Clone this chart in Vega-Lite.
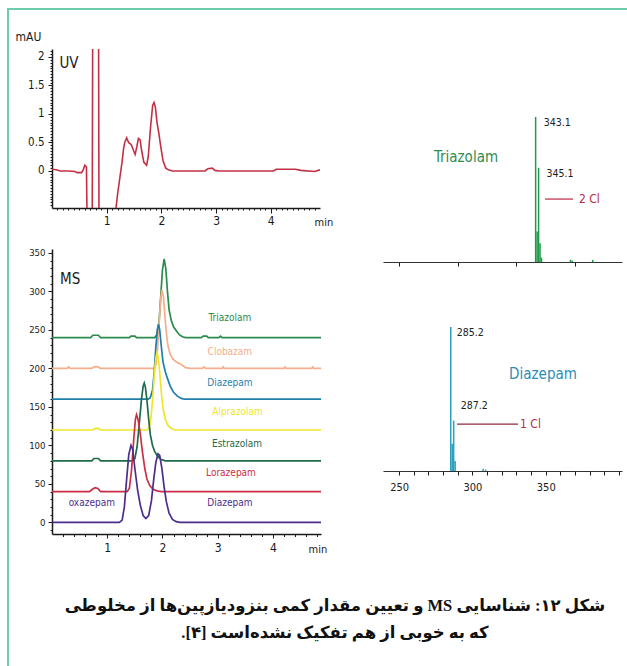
{
  "$schema": "https://vega.github.io/schema/vega-lite/v6.json",
  "background": "white",
  "padding": {"left": 7, "top": 8, "right": 0, "bottom": 0},
  "spacing": 0,
  "config": {
    "view": {"stroke": null},
    "axis": {
      "grid": false,
      "domainColor": "#1a1a1a",
      "domainWidth": 1.5,
      "tickColor": "#1a1a1a",
      "tickWidth": 1,
      "labelColor": "#1a1a1a",
      "labelFont": "Liberation Sans Narrow, DejaVu Sans Condensed, sans-serif",
      "titleFont": "Liberation Sans Narrow, DejaVu Sans Condensed, sans-serif",
      "titleFontWeight": "normal",
      "titleColor": "#1a1a1a"
    },
    "text": {"font": "Liberation Sans Narrow, DejaVu Sans Condensed, sans-serif"}
  },
  "datasets": {
    "uv": [
      {"t": 0, "a": 0.03}, {"t": 0.08, "a": 0.02}, {"t": 0.15, "a": 0.0}, {"t": 0.3, "a": 0.0},
      {"t": 0.42, "a": -0.01}, {"t": 0.46, "a": -0.03}, {"t": 0.54, "a": -0.03}, {"t": 0.57, "a": 0.02},
      {"t": 0.6, "a": 0.1}, {"t": 0.63, "a": 0.07}, {"t": 0.645, "a": -1.2}, {"t": 0.735, "a": -1.2},
      {"t": 0.745, "a": 3}, {"t": 0.85, "a": 3}, {"t": 0.86, "a": -1.2}, {"t": 1.13, "a": -1.2},
      {"t": 1.17, "a": -0.65}, {"t": 1.2, "a": -0.4}, {"t": 1.24, "a": -0.12}, {"t": 1.28, "a": 0.15},
      {"t": 1.31, "a": 0.4}, {"t": 1.33, "a": 0.5}, {"t": 1.365, "a": 0.58}, {"t": 1.4, "a": 0.5},
      {"t": 1.45, "a": 0.46}, {"t": 1.49, "a": 0.36}, {"t": 1.52, "a": 0.29}, {"t": 1.55, "a": 0.42},
      {"t": 1.58, "a": 0.57}, {"t": 1.61, "a": 0.55}, {"t": 1.64, "a": 0.35}, {"t": 1.68, "a": 0.15},
      {"t": 1.73, "a": 0.1}, {"t": 1.76, "a": 0.25}, {"t": 1.8, "a": 0.75}, {"t": 1.84, "a": 1.15},
      {"t": 1.865, "a": 1.2}, {"t": 1.89, "a": 1.12}, {"t": 1.92, "a": 0.85}, {"t": 1.95, "a": 0.68},
      {"t": 1.99, "a": 0.42}, {"t": 2.03, "a": 0.18}, {"t": 2.08, "a": 0.05}, {"t": 2.13, "a": 0.02},
      {"t": 2.2, "a": 0.0}, {"t": 2.8, "a": 0.0}, {"t": 2.85, "a": 0.04}, {"t": 2.93, "a": 0.05},
      {"t": 2.98, "a": 0.01}, {"t": 3.05, "a": 0.0}, {"t": 4.05, "a": 0.0}, {"t": 4.1, "a": 0.03},
      {"t": 4.3, "a": 0.03}, {"t": 4.45, "a": 0.03}, {"t": 4.55, "a": 0.01}, {"t": 4.8, "a": -0.01},
      {"t": 4.9, "a": 0.02}
    ],
    "ms": [
      {"s": "Triazolam", "t": 0, "v": 240}, {"s": "Triazolam", "t": 0.7, "v": 240}, {"s": "Triazolam", "t": 0.74, "v": 243},
      {"s": "Triazolam", "t": 0.84, "v": 243}, {"s": "Triazolam", "t": 0.88, "v": 240}, {"s": "Triazolam", "t": 1.4, "v": 240},
      {"s": "Triazolam", "t": 1.43, "v": 242}, {"s": "Triazolam", "t": 1.5, "v": 242}, {"s": "Triazolam", "t": 1.53, "v": 240},
      {"s": "Triazolam", "t": 1.86, "v": 240}, {"s": "Triazolam", "t": 1.9, "v": 244}, {"s": "Triazolam", "t": 1.94, "v": 262},
      {"s": "Triazolam", "t": 1.97, "v": 295}, {"s": "Triazolam", "t": 2.0, "v": 328}, {"s": "Triazolam", "t": 2.03, "v": 342},
      {"s": "Triazolam", "t": 2.06, "v": 330}, {"s": "Triazolam", "t": 2.09, "v": 300}, {"s": "Triazolam", "t": 2.12, "v": 276},
      {"s": "Triazolam", "t": 2.16, "v": 262}, {"s": "Triazolam", "t": 2.2, "v": 254}, {"s": "Triazolam", "t": 2.25, "v": 249},
      {"s": "Triazolam", "t": 2.3, "v": 244}, {"s": "Triazolam", "t": 2.36, "v": 241}, {"s": "Triazolam", "t": 2.42, "v": 240},
      {"s": "Triazolam", "t": 2.7, "v": 240}, {"s": "Triazolam", "t": 2.74, "v": 242}, {"s": "Triazolam", "t": 2.8, "v": 242},
      {"s": "Triazolam", "t": 2.83, "v": 240}, {"s": "Triazolam", "t": 3.02, "v": 240}, {"s": "Triazolam", "t": 3.05, "v": 242},
      {"s": "Triazolam", "t": 3.08, "v": 240}, {"s": "Triazolam", "t": 4.87, "v": 240},

      {"s": "Clobazam", "t": 0, "v": 200}, {"s": "Clobazam", "t": 0.28, "v": 200}, {"s": "Clobazam", "t": 0.3, "v": 202},
      {"s": "Clobazam", "t": 0.33, "v": 200}, {"s": "Clobazam", "t": 0.72, "v": 200}, {"s": "Clobazam", "t": 0.76, "v": 202},
      {"s": "Clobazam", "t": 0.84, "v": 202}, {"s": "Clobazam", "t": 0.87, "v": 200}, {"s": "Clobazam", "t": 1.85, "v": 200},
      {"s": "Clobazam", "t": 1.88, "v": 204}, {"s": "Clobazam", "t": 1.91, "v": 225}, {"s": "Clobazam", "t": 1.94, "v": 260},
      {"s": "Clobazam", "t": 1.97, "v": 292}, {"s": "Clobazam", "t": 1.99, "v": 302}, {"s": "Clobazam", "t": 2.02, "v": 292},
      {"s": "Clobazam", "t": 2.05, "v": 262}, {"s": "Clobazam", "t": 2.08, "v": 240}, {"s": "Clobazam", "t": 2.1, "v": 229},
      {"s": "Clobazam", "t": 2.14, "v": 218}, {"s": "Clobazam", "t": 2.19, "v": 212}, {"s": "Clobazam", "t": 2.26, "v": 208},
      {"s": "Clobazam", "t": 2.34, "v": 205}, {"s": "Clobazam", "t": 2.42, "v": 201}, {"s": "Clobazam", "t": 2.5, "v": 200},
      {"s": "Clobazam", "t": 2.72, "v": 200}, {"s": "Clobazam", "t": 2.75, "v": 202}, {"s": "Clobazam", "t": 2.78, "v": 200},
      {"s": "Clobazam", "t": 3.08, "v": 200}, {"s": "Clobazam", "t": 3.1, "v": 202}, {"s": "Clobazam", "t": 3.12, "v": 200},
      {"s": "Clobazam", "t": 4.2, "v": 200}, {"s": "Clobazam", "t": 4.22, "v": 202}, {"s": "Clobazam", "t": 4.24, "v": 200},
      {"s": "Clobazam", "t": 4.7, "v": 200}, {"s": "Clobazam", "t": 4.72, "v": 202}, {"s": "Clobazam", "t": 4.74, "v": 200},
      {"s": "Clobazam", "t": 4.87, "v": 200},

      {"s": "Diazepam", "t": 0, "v": 160}, {"s": "Diazepam", "t": 1.74, "v": 160}, {"s": "Diazepam", "t": 1.78, "v": 162},
      {"s": "Diazepam", "t": 1.82, "v": 172}, {"s": "Diazepam", "t": 1.85, "v": 195}, {"s": "Diazepam", "t": 1.88, "v": 228},
      {"s": "Diazepam", "t": 1.91, "v": 252}, {"s": "Diazepam", "t": 1.93, "v": 257}, {"s": "Diazepam", "t": 1.95, "v": 250},
      {"s": "Diazepam", "t": 1.98, "v": 228}, {"s": "Diazepam", "t": 2.01, "v": 208}, {"s": "Diazepam", "t": 2.05, "v": 196},
      {"s": "Diazepam", "t": 2.09, "v": 187}, {"s": "Diazepam", "t": 2.14, "v": 177}, {"s": "Diazepam", "t": 2.2, "v": 169},
      {"s": "Diazepam", "t": 2.27, "v": 164}, {"s": "Diazepam", "t": 2.34, "v": 161}, {"s": "Diazepam", "t": 2.4, "v": 160},
      {"s": "Diazepam", "t": 4.87, "v": 160},

      {"s": "Alprazolam", "t": 0, "v": 120}, {"s": "Alprazolam", "t": 0.74, "v": 120}, {"s": "Alprazolam", "t": 0.78, "v": 122},
      {"s": "Alprazolam", "t": 0.84, "v": 122}, {"s": "Alprazolam", "t": 0.88, "v": 120}, {"s": "Alprazolam", "t": 1.72, "v": 120},
      {"s": "Alprazolam", "t": 1.76, "v": 123}, {"s": "Alprazolam", "t": 1.79, "v": 135}, {"s": "Alprazolam", "t": 1.82, "v": 158},
      {"s": "Alprazolam", "t": 1.85, "v": 190}, {"s": "Alprazolam", "t": 1.88, "v": 214}, {"s": "Alprazolam", "t": 1.9, "v": 220},
      {"s": "Alprazolam", "t": 1.92, "v": 216}, {"s": "Alprazolam", "t": 1.95, "v": 195}, {"s": "Alprazolam", "t": 1.98, "v": 168},
      {"s": "Alprazolam", "t": 2.01, "v": 148}, {"s": "Alprazolam", "t": 2.05, "v": 134}, {"s": "Alprazolam", "t": 2.1, "v": 126},
      {"s": "Alprazolam", "t": 2.16, "v": 122}, {"s": "Alprazolam", "t": 2.22, "v": 120}, {"s": "Alprazolam", "t": 4.87, "v": 120},

      {"s": "Estrazolam", "t": 0, "v": 80}, {"s": "Estrazolam", "t": 0.72, "v": 80}, {"s": "Estrazolam", "t": 0.76, "v": 83},
      {"s": "Estrazolam", "t": 0.84, "v": 83}, {"s": "Estrazolam", "t": 0.88, "v": 80}, {"s": "Estrazolam", "t": 1.46, "v": 80},
      {"s": "Estrazolam", "t": 1.5, "v": 83}, {"s": "Estrazolam", "t": 1.54, "v": 98}, {"s": "Estrazolam", "t": 1.58, "v": 128},
      {"s": "Estrazolam", "t": 1.62, "v": 160}, {"s": "Estrazolam", "t": 1.65, "v": 177}, {"s": "Estrazolam", "t": 1.67, "v": 181},
      {"s": "Estrazolam", "t": 1.69, "v": 176}, {"s": "Estrazolam", "t": 1.72, "v": 158}, {"s": "Estrazolam", "t": 1.75, "v": 134},
      {"s": "Estrazolam", "t": 1.78, "v": 114}, {"s": "Estrazolam", "t": 1.82, "v": 100}, {"s": "Estrazolam", "t": 1.86, "v": 92},
      {"s": "Estrazolam", "t": 1.91, "v": 86}, {"s": "Estrazolam", "t": 1.97, "v": 82}, {"s": "Estrazolam", "t": 2.05, "v": 80},
      {"s": "Estrazolam", "t": 4.87, "v": 80},

      {"s": "Lorazepam", "t": 0, "v": 40}, {"s": "Lorazepam", "t": 0.68, "v": 40}, {"s": "Lorazepam", "t": 0.73, "v": 43},
      {"s": "Lorazepam", "t": 0.78, "v": 45}, {"s": "Lorazepam", "t": 0.83, "v": 44}, {"s": "Lorazepam", "t": 0.88, "v": 40},
      {"s": "Lorazepam", "t": 1.36, "v": 40}, {"s": "Lorazepam", "t": 1.4, "v": 44}, {"s": "Lorazepam", "t": 1.44, "v": 68},
      {"s": "Lorazepam", "t": 1.48, "v": 108}, {"s": "Lorazepam", "t": 1.51, "v": 134}, {"s": "Lorazepam", "t": 1.53, "v": 140},
      {"s": "Lorazepam", "t": 1.56, "v": 133}, {"s": "Lorazepam", "t": 1.6, "v": 114}, {"s": "Lorazepam", "t": 1.64, "v": 90},
      {"s": "Lorazepam", "t": 1.68, "v": 70}, {"s": "Lorazepam", "t": 1.72, "v": 56}, {"s": "Lorazepam", "t": 1.77, "v": 48},
      {"s": "Lorazepam", "t": 1.83, "v": 43}, {"s": "Lorazepam", "t": 1.9, "v": 41}, {"s": "Lorazepam", "t": 1.98, "v": 40},
      {"s": "Lorazepam", "t": 4.87, "v": 40},

      {"s": "Oxazepam + Diazepam", "t": 0, "v": 0}, {"s": "Oxazepam + Diazepam", "t": 1.22, "v": 0}, {"s": "Oxazepam + Diazepam", "t": 1.27, "v": 3},
      {"s": "Oxazepam + Diazepam", "t": 1.31, "v": 20}, {"s": "Oxazepam + Diazepam", "t": 1.35, "v": 55}, {"s": "Oxazepam + Diazepam", "t": 1.39, "v": 88},
      {"s": "Oxazepam + Diazepam", "t": 1.43, "v": 100}, {"s": "Oxazepam + Diazepam", "t": 1.46, "v": 95}, {"s": "Oxazepam + Diazepam", "t": 1.5, "v": 70},
      {"s": "Oxazepam + Diazepam", "t": 1.55, "v": 42}, {"s": "Oxazepam + Diazepam", "t": 1.6, "v": 22}, {"s": "Oxazepam + Diazepam", "t": 1.65, "v": 9},
      {"s": "Oxazepam + Diazepam", "t": 1.7, "v": 5}, {"s": "Oxazepam + Diazepam", "t": 1.75, "v": 9}, {"s": "Oxazepam + Diazepam", "t": 1.8, "v": 28},
      {"s": "Oxazepam + Diazepam", "t": 1.84, "v": 55}, {"s": "Oxazepam + Diazepam", "t": 1.88, "v": 78}, {"s": "Oxazepam + Diazepam", "t": 1.92, "v": 89},
      {"s": "Oxazepam + Diazepam", "t": 1.95, "v": 87}, {"s": "Oxazepam + Diazepam", "t": 1.99, "v": 70}, {"s": "Oxazepam + Diazepam", "t": 2.03, "v": 46},
      {"s": "Oxazepam + Diazepam", "t": 2.07, "v": 27}, {"s": "Oxazepam + Diazepam", "t": 2.12, "v": 12}, {"s": "Oxazepam + Diazepam", "t": 2.18, "v": 4},
      {"s": "Oxazepam + Diazepam", "t": 2.25, "v": 1}, {"s": "Oxazepam + Diazepam", "t": 2.32, "v": 0}, {"s": "Oxazepam + Diazepam", "t": 4.87, "v": 0}
    ],
    "msLabels": [
      {"s": "Triazolam", "t": 3.22, "v": 265, "label": "Triazolam"},
      {"s": "Clobazam", "t": 3.22, "v": 221, "label": "Clobazam"},
      {"s": "Diazepam", "t": 3.22, "v": 181, "label": "Diazepam"},
      {"s": "Alprazolam", "t": 3.36, "v": 143, "label": "Alprazolam"},
      {"s": "Estrazolam", "t": 3.35, "v": 102, "label": "Estrazolam"},
      {"s": "Lorazepam", "t": 3.24, "v": 64, "label": "Lorazepam"},
      {"s": "Oxazepam + Diazepam", "t": 3.22, "v": 25, "label": "Diazepam"},
      {"s": "Oxazepam + Diazepam", "t": 0.72, "v": 25, "label": "oxazepam"}
    ],
    "triazolamSpectrum": [
      {"mz": 343.1, "rel": 100, "label": "343.1"},
      {"mz": 344.1, "rel": 21},
      {"mz": 345.1, "rel": 65, "label": "345.1"},
      {"mz": 346.1, "rel": 13},
      {"mz": 347.1, "rel": 3},
      {"mz": 366.8, "rel": 1.5},
      {"mz": 368.0, "rel": 1},
      {"mz": 382.0, "rel": 1.5}
    ],
    "diazepamSpectrum": [
      {"mz": 285.2, "rel": 100, "label": "285.2"},
      {"mz": 286.2, "rel": 19},
      {"mz": 287.2, "rel": 35, "labelAbove": "287.2"},
      {"mz": 288.2, "rel": 7},
      {"mz": 307.3, "rel": 1.5},
      {"mz": 309.0, "rel": 1}
    ],
    "caption": [
      {"line": 1, "text": "\u202Bشکل ۱۲: شناسایی MS و تعیین مقدار کمی بنزودیازپین\u200cها از مخلوطی\u202C"},
      {"line": 2, "text": "\u202Bکه به خوبی از هم تفکیک نشده\u200cاست [۴].\u202C"}
    ]
  },
  "vconcat": [
    {
      "width": 620,
      "height": 2,
      "view": {"fill": "#6dcbab", "stroke": null},
      "data": {"values": [{}]},
      "mark": {"type": "point", "opacity": 0, "size": 0},
      "encoding": {}
    },
    {
      "spacing": 6,
      "hconcat": [
        {
          "width": 2,
          "height": 656,
          "view": {"fill": "#6dcbab", "stroke": null},
          "data": {"values": [{}]},
          "mark": {"type": "point", "opacity": 0, "size": 0},
          "encoding": {}
        },
        {
          "spacing": 0,
          "vconcat": [
            {
              "width": 1,
              "height": 20,
              "data": {"values": [{}]},
              "mark": {"type": "point", "opacity": 0, "size": 0},
              "encoding": {}
            },
            {
              "spacing": 38,
              "vconcat": [
                {
                  "spacing": 50,
                  "hconcat": [
                    {
                      "spacing": 20,
                      "vconcat": [
                        {
                          "width": 268,
                          "height": 159,
                          "resolve": {"axis": {"x": "independent", "y": "independent"}},
                          "layer": [
                            {
                              "data": {"name": "uv"},
                              "mark": {"type": "line", "color": "#c33045", "strokeWidth": 1.6, "clip": true},
                              "encoding": {
                                "x": {"field": "t", "type": "quantitative", "scale": {"domain": [0, 4.9], "nice": false, "zero": false},
                                  "axis": {"orient": "bottom", "values": [1, 2, 3, 4], "tickSize": 5, "labelFontSize": 12, "labelPadding": 2,
                                    "title": "min", "titleX": 262, "titleY": 14, "titleAlign": "left", "titleBaseline": "middle", "titleFontSize": 11}},
                                "y": {"field": "a", "type": "quantitative", "scale": {"domain": [-0.65, 2.14], "nice": false, "zero": false},
                                  "axis": {"orient": "left", "values": [0, 0.5, 1, 1.5, 2], "format": "~g", "tickSize": 4, "labelFontSize": 11.5, "labelPadding": 4,
                                    "title": "mAU", "titleAngle": 0, "titleAlign": "left", "titleBaseline": "top", "titleX": -37, "titleY": -18, "titleFontSize": 12}}
                              }
                            },
                            {
                              "data": {"values": [{"t": 0.135, "a": 1.9, "label": "UV"}]},
                              "mark": {"type": "text", "align": "left", "baseline": "middle", "fontSize": 15, "color": "#1a1a1a"},
                              "encoding": {
                                "x": {"field": "t", "type": "quantitative",
                                  "axis": {"orient": "bottom", "values": [0.1,0.2,0.3,0.4,0.5,0.6,0.7,0.8,0.9,1.1,1.2,1.3,1.4,1.5,1.6,1.7,1.8,1.9,2.1,2.2,2.3,2.4,2.5,2.6,2.7,2.8,2.9,3.1,3.2,3.3,3.4,3.5,3.6,3.7,3.8,3.9,4.1,4.2,4.3,4.4,4.5,4.6,4.7,4.8],
                                    "tickSize": 2, "labels": false, "domain": false, "title": null}},
                                "y": {"field": "a", "type": "quantitative",
                                  "axis": {"orient": "left", "values": [-0.6,-0.55,-0.5,-0.45,-0.4,-0.35,-0.3,-0.25,-0.2,-0.15,-0.1,-0.05,0.05,0.1,0.15,0.2,0.25,0.3,0.35,0.4,0.45,0.55,0.6,0.65,0.7,0.75,0.8,0.85,0.9,0.95,1.05,1.1,1.15,1.2,1.25,1.3,1.35,1.4,1.45,1.55,1.6,1.65,1.7,1.75,1.8,1.85,1.9,1.95,2.05,2.1],
                                    "tickSize": 2, "labels": false, "domain": false, "title": null}},
                                "text": {"field": "label"}
                              }
                            }
                          ]
                        },
                        {
                          "width": 269,
                          "height": 285,
                          "resolve": {"axis": {"x": "independent", "y": "independent"}},
                          "layer": [
                            {
                              "data": {"name": "ms"},
                              "mark": {"type": "line", "strokeWidth": 1.7, "clip": true},
                              "encoding": {
                                "x": {"field": "t", "type": "quantitative", "scale": {"domain": [0, 4.87], "nice": false, "zero": false},
                                  "axis": {"orient": "bottom", "values": [1, 2, 3, 4], "tickSize": 4, "labelFontSize": 12, "labelPadding": 4,
                                    "title": "min", "titleX": 256, "titleY": 15, "titleAlign": "left", "titleBaseline": "middle", "titleFontSize": 11}},
                                "y": {"field": "v", "type": "quantitative", "scale": {"domain": [-15, 355], "nice": false, "zero": false},
                                  "axis": {"orient": "left", "values": [0, 50, 100, 150, 200, 250, 300, 350], "tickSize": 4, "labelFontSize": 9.5, "labelPadding": 3, "title": null}},
                                "color": {"field": "s", "type": "nominal", "legend": null,
                                  "scale": {"domain": ["Oxazepam + Diazepam", "Lorazepam", "Estrazolam", "Alprazolam", "Diazepam", "Clobazam", "Triazolam"],
                                    "range": ["#4b2d8c", "#cc2f45", "#1d6b48", "#eee62a", "#1f7fab", "#f3ae8c", "#2b8a4e"]}}
                              }
                            },
                            {
                              "data": {"name": "msLabels"},
                              "mark": {"type": "text", "align": "center", "baseline": "middle", "fontSize": 10},
                              "encoding": {
                                "x": {"field": "t", "type": "quantitative",
                                  "axis": {"orient": "bottom", "values": [0.2,0.4,0.6,0.8,1.2,1.4,1.6,1.8,2.2,2.4,2.6,2.8,3.2,3.4,3.6,3.8,4.2,4.4,4.6,4.8],
                                    "tickSize": 2.5, "labels": false, "domain": false, "title": null}},
                                "y": {"field": "v", "type": "quantitative",
                                  "axis": {"orient": "left", "values": [-10,10,20,30,40,60,70,80,90,110,120,130,140,160,170,180,190,210,220,230,240,260,270,280,290,310,320,330,340],
                                    "tickSize": 2, "labels": false, "domain": false, "title": null}},
                                "color": {"field": "s", "type": "nominal", "legend": null},
                                "text": {"field": "label"}
                              }
                            },
                            {
                              "data": {"values": [{"t": 0.145, "v": 316, "label": "MS"}]},
                              "mark": {"type": "text", "align": "left", "baseline": "middle", "fontSize": 15, "color": "#1a1a1a"},
                              "encoding": {
                                "x": {"field": "t", "type": "quantitative", "axis": null},
                                "y": {"field": "v", "type": "quantitative", "axis": null},
                                "text": {"field": "label"}
                              }
                            }
                          ]
                        }
                      ]
                    },
                    {
                      "spacing": 10,
                      "vconcat": [
                        {
                          "width": 239,
                          "height": 213,
                          "layer": [
                            {
                              "data": {"name": "triazolamSpectrum"},
                              "mark": {"type": "rule", "color": "#1f9a47", "strokeWidth": 1.5},
                              "encoding": {
                                "x": {"field": "mz", "type": "quantitative", "scale": {"domain": [239, 402], "nice": false, "zero": false},
                                  "axis": {"orient": "bottom", "values": [250,260,270,280,290,300,310,320,330,340,350,360,370,380,390,400],
                                    "tickSize": 4, "labels": false, "title": null, "domainWidth": 1.2, "domainColor": "#333"}},
                                "y": {"field": "rel", "type": "quantitative", "scale": {"domain": [0, 146.9], "nice": false}, "axis": null},
                                "y2": {"datum": 0}
                              }
                            },
                            {
                              "data": {"name": "triazolamSpectrum"},
                              "transform": [{"filter": "isValid(datum.label)"}],
                              "mark": {"type": "text", "align": "left", "baseline": "middle", "dx": 8, "dy": 6, "fontSize": 10.5, "color": "#222"},
                              "encoding": {
                                "x": {"field": "mz", "type": "quantitative"},
                                "y": {"field": "rel", "type": "quantitative"},
                                "text": {"field": "label"}
                              }
                            },
                            {
                              "data": {"values": [{"mz": 295.6, "rel": 72.4, "label": "Triazolam"}]},
                              "mark": {"type": "text", "align": "center", "baseline": "middle", "fontSize": 15, "color": "#2f8c52"},
                              "encoding": {
                                "x": {"field": "mz", "type": "quantitative"},
                                "y": {"field": "rel", "type": "quantitative"},
                                "text": {"field": "label"}
                              }
                            },
                            {
                              "data": {"values": [{"from": 349.5, "to": 368.6, "rel": 43.4, "label": "2 Cl"}]},
                              "layer": [
                                {
                                  "mark": {"type": "rule", "color": "#c0384f", "strokeWidth": 1.3},
                                  "encoding": {
                                    "x": {"field": "from", "type": "quantitative"},
                                    "x2": {"field": "to"},
                                    "y": {"field": "rel", "type": "quantitative"}
                                  }
                                },
                                {
                                  "mark": {"type": "text", "align": "left", "baseline": "middle", "dx": 6, "fontSize": 12, "color": "#b52e48"},
                                  "encoding": {
                                    "x": {"field": "to", "type": "quantitative"},
                                    "y": {"field": "rel", "type": "quantitative"},
                                    "text": {"field": "label"}
                                  }
                                }
                              ]
                            }
                          ]
                        },
                        {
                          "width": 239,
                          "height": 194,
                          "resolve": {"axis": {"x": "independent"}},
                          "layer": [
                            {
                              "data": {"name": "diazepamSpectrum"},
                              "mark": {"type": "rule", "color": "#2aa0be", "strokeWidth": 1.5},
                              "encoding": {
                                "x": {"field": "mz", "type": "quantitative", "scale": {"domain": [239, 402], "nice": false, "zero": false},
                                  "axis": {"orient": "bottom", "values": [250, 300, 350], "labelOverlap": false, "labelFlush": false,
                                    "tickSize": 4, "labelFontSize": 11, "labelPadding": 6, "title": null, "domainWidth": 1.2, "domainColor": "#333"}},
                                "y": {"field": "rel", "type": "quantitative", "scale": {"domain": [0, 134.7], "nice": false}, "axis": null},
                                "y2": {"datum": 0}
                              }
                            },
                            {
                              "data": {"name": "diazepamSpectrum"},
                              "transform": [{"filter": "isValid(datum.label)"}],
                              "mark": {"type": "text", "align": "left", "baseline": "middle", "dx": 6, "dy": 6, "fontSize": 10.5, "color": "#222"},
                              "encoding": {
                                "x": {"field": "mz", "type": "quantitative",
                                  "axis": {"orient": "bottom", "values": [260,270,280,290,310,320,330,340,360,370,380,390,400],
                                    "tickSize": 4, "labels": false, "domain": false, "title": null}},
                                "y": {"field": "rel", "type": "quantitative"},
                                "text": {"field": "label"}
                              }
                            },
                            {
                              "data": {"name": "diazepamSpectrum"},
                              "transform": [{"filter": "isValid(datum.labelAbove)"}],
                              "mark": {"type": "text", "align": "left", "baseline": "middle", "dx": 7, "dy": -15, "fontSize": 10.5, "color": "#222"},
                              "encoding": {
                                "x": {"field": "mz", "type": "quantitative", "axis": null},
                                "y": {"field": "rel", "type": "quantitative"},
                                "text": {"field": "labelAbove"}
                              }
                            },
                            {
                              "data": {"values": [{"mz": 348.1, "rel": 67.4, "label": "Diazepam"}]},
                              "mark": {"type": "text", "align": "center", "baseline": "middle", "fontSize": 15, "color": "#2d8db6"},
                              "encoding": {
                                "x": {"field": "mz", "type": "quantitative", "axis": null},
                                "y": {"field": "rel", "type": "quantitative"},
                                "text": {"field": "label"}
                              }
                            },
                            {
                              "data": {"values": [{"from": 289.5, "to": 331.1, "rel": 32.6, "label": "1 Cl"}]},
                              "layer": [
                                {
                                  "mark": {"type": "rule", "color": "#8e2a3c", "strokeWidth": 1.3},
                                  "encoding": {
                                    "x": {"field": "from", "type": "quantitative", "axis": null},
                                    "x2": {"field": "to"},
                                    "y": {"field": "rel", "type": "quantitative"}
                                  }
                                },
                                {
                                  "mark": {"type": "text", "align": "left", "baseline": "middle", "dx": 2, "fontSize": 12, "color": "#b52e48"},
                                  "encoding": {
                                    "x": {"field": "to", "type": "quantitative", "axis": null},
                                    "y": {"field": "rel", "type": "quantitative"},
                                    "text": {"field": "label"}
                                  }
                                }
                              ]
                            }
                          ]
                        }
                      ]
                    }
                  ]
                },
                {
                  "width": 560,
                  "height": 55,
                  "data": {"name": "caption"},
                  "mark": {"type": "text", "fontSize": 16.5, "fontWeight": "bold",
                    "font": "Liberation Serif, DejaVu Sans, serif", "align": "center", "baseline": "middle", "dx": 3, "color": "#111"},
                  "encoding": {
                    "y": {"field": "line", "type": "ordinal", "axis": null},
                    "text": {"field": "text"}
                  }
                }
              ]
            }
          ]
        }
      ]
    }
  ]
}
